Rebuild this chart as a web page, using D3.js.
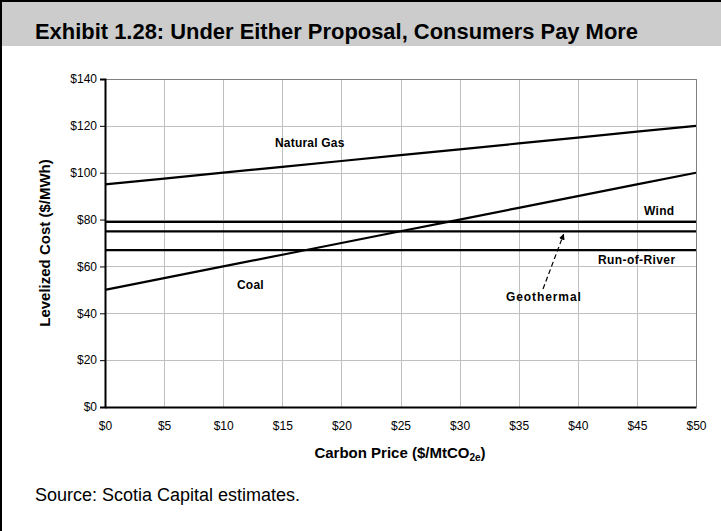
<!DOCTYPE html>
<html><head><meta charset="utf-8">
<script src="https://cdn.jsdelivr.net/npm/d3@7"></script>
<style>body{margin:0;background:#fff}svg{display:block;font-family:"Liberation Sans",Arial,sans-serif}</style>
</head><body>
<script>
const carbonPrice = [0,5,10,15,20,25,30,35,40,45,50];
const naturalGas = [95,97.5,100,102.5,105,107.5,110,112.5,115,117.5,120];
const coal = [50,55,60,65,70,75,80,85,90,95,100];
const wind = [79,79,79,79,79,79,79,79,79,79,79];
const geothermal = [75,75,75,75,75,75,75,75,75,75,75];
const runOfRiver = [67,67,67,67,67,67,67,67,67,67,67];
const yTicks = [0,20,40,60,80,100,120,140];
const xTicks = [0,5,10,15,20,25,30,35,40,45,50];
const seriesNames = ["Natural Gas","Coal","Wind","Geothermal","Run-of-River"];

const W=721,H=531;
const svg=d3.select("body").append("svg").attr("width",W).attr("height",H);
svg.append("rect").attr("x",0).attr("y",0).attr("width",W).attr("height",H).attr("fill","#fff");
// title bar
svg.append("rect").attr("x",2).attr("y",2).attr("width",W-2).attr("height",44).attr("fill","#cccccc");
svg.append("line").attr("x1",0).attr("x2",W).attr("y1",1).attr("y2",1).attr("stroke","#000").attr("stroke-width",2);
svg.append("line").attr("x1",1).attr("x2",1).attr("y1",0).attr("y2",H).attr("stroke","#000").attr("stroke-width",2);
svg.append("text").attr("x",35).attr("y",39).attr("font-size",22).attr("font-weight","bold").attr("fill","#000")
  .attr("textLength",603).attr("lengthAdjust","spacingAndGlyphs")
  .text("Exhibit 1.28: Under Either Proposal, Consumers Pay More");

const x=d3.scaleLinear().domain([0,50]).range([105,696]);
const y=d3.scaleLinear().domain([0,140]).range([407,79]);

// grid
svg.append("g").selectAll("line").data(xTicks.slice(1)).join("line")
  .attr("x1",d=>Math.round(x(d))+0.5).attr("x2",d=>Math.round(x(d))+0.5).attr("y1",y(140)).attr("y2",y(0))
  .attr("stroke","#c0c0c0").attr("stroke-width",1);
svg.append("g").selectAll("line").data(yTicks.slice(1)).join("line")
  .attr("x1",x(0)).attr("x2",x(50)).attr("y1",d=>Math.round(y(d))+0.5).attr("y2",d=>Math.round(y(d))+0.5)
  .attr("stroke","#c0c0c0").attr("stroke-width",1);
// plot border top/right
svg.append("line").attr("x1",x(0)).attr("x2",x(50)).attr("y1",y(140)+0.5).attr("y2",y(140)+0.5).attr("stroke","#808080");
svg.append("line").attr("x1",x(50)+0.5).attr("x2",x(50)+0.5).attr("y1",y(140)).attr("y2",y(0)).attr("stroke","#808080");

// axes
const yAxis=d3.axisLeft(y).tickValues(yTicks).tickFormat(d=>"$"+d).tickSizeOuter(0).tickSize(5).tickPadding(3);
const gy=svg.append("g").attr("transform",`translate(${x(0)},0)`).call(yAxis);
const xAxis=d3.axisBottom(x).tickValues(xTicks).tickFormat(d=>"$"+d).tickSizeOuter(0).tickSize(0).tickPadding(14);
const gx=svg.append("g").attr("transform",`translate(0,${y(0)})`).call(xAxis);
[gx,gy].forEach(g=>{g.selectAll("path").attr("stroke","#000").attr("stroke-width",2);
  g.selectAll("line").attr("stroke","#000");
  g.selectAll("text").attr("font-size",12).attr("fill","#000").attr("font-family","Liberation Sans, Arial, sans-serif");});

// lines
const line=d3.line().x((d,i)=>x(carbonPrice[i])).y(d=>y(d));
[naturalGas,coal,wind,geothermal,runOfRiver].forEach(s=>{
  svg.append("path").attr("d",line(s)).attr("fill","none").attr("stroke","#000").attr("stroke-width",2.2);
});

// labels
const lab=(t,xx,yy,ls)=>svg.append("text").attr("x",xx).attr("y",yy).attr("font-size",12).attr("font-weight","bold")
  .attr("letter-spacing",ls||0).attr("fill","#000").text(t);
lab(seriesNames[0],275,147,0.2);
lab(seriesNames[1],237,289,0.2);
lab(seriesNames[2],644,215,0.3);
lab(seriesNames[4],598,264,0.4);
lab(seriesNames[3],506,301,0.9);

// dashed arrow to geothermal
svg.append("defs").append("marker").attr("id","ah").attr("viewBox","0 0 10 10").attr("refX",9).attr("refY",5)
  .attr("markerWidth",5).attr("markerHeight",5).attr("orient","auto")
  .append("path").attr("d","M0,0L10,5L0,10z").attr("fill","#000");
svg.append("line").attr("x1",543).attr("y1",289).attr("x2",x(38.8)).attr("y2",y(75)+3)
  .attr("stroke","#000").attr("stroke-width",1.2).attr("stroke-dasharray","5,3").attr("marker-end","url(#ah)");

// axis titles
svg.append("text").attr("transform",`translate(50,${(y(0)+y(140))/2}) rotate(-90)`).attr("text-anchor","middle")
  .attr("font-size",15).attr("font-weight","bold").attr("fill","#000").text("Levelized Cost ($/MWh)");
const xt=svg.append("text").attr("x",400).attr("y",458).attr("text-anchor","middle").attr("font-size",15).attr("font-weight","bold").attr("fill","#000");
xt.append("tspan").text("Carbon Price ($/MtCO");
xt.append("tspan").attr("font-size",10).attr("dy",3).text("2e");
xt.append("tspan").attr("dy",-3).text(")");

svg.append("text").attr("x",35).attr("y",501).attr("font-size",18).attr("fill","#000").text("Source: Scotia Capital estimates.");
</script>
</body></html>
